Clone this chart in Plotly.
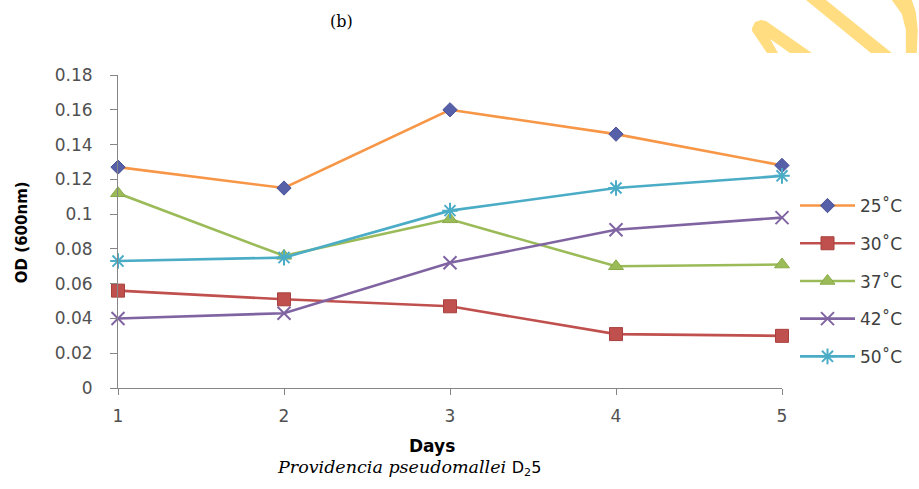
import plotly.graph_objects as go

# Optical density at 600 nm over five days, one series per incubation temperature
days = [1, 2, 3, 4, 5]
series_names = ["25˚C", "30˚C", "37˚C", "42˚C", "50˚C"]
od_25 = [0.127, 0.115, 0.160, 0.146, 0.128]
od_30 = [0.056, 0.051, 0.047, 0.031, 0.030]
od_37 = [0.112, 0.076, 0.097, 0.070, 0.071]
od_42 = [0.040, 0.043, 0.072, 0.091, 0.098]
od_50 = [0.073, 0.075, 0.102, 0.115, 0.122]
y_ticks = [0, 0.02, 0.04, 0.06, 0.08, 0.10, 0.12, 0.14, 0.16, 0.18]

W, H = 919, 489
L, R, T, B = 118, 783, 75, 388  # plot-area edges in pixels


def px(x, y):
    """Pixel position on the page -> paper coordinates."""
    return (x - L) / (R - L), (B - y) / (B - T)


styles = [
    dict(line="#F79646", marker=dict(symbol="diamond", size=11, color="#5660A8",
                                     line=dict(color="#4A5296", width=1))),
    dict(line="#C0504D", marker=dict(symbol="square", size=13, color="#C0504D",
                                     line=dict(color="#A8403D", width=1))),
    dict(line="#9BBB59", marker=dict(symbol="triangle-up", size=13, color="#9BBB59",
                                     line=dict(color="#8AAA48", width=1))),
    dict(line="#8064A2", marker=dict(symbol="x-thin-open", size=13, color="#8064A2",
                                     line=dict(color="#8064A2", width=2))),
    dict(line="#4BACC6", marker=dict(symbol="asterisk-open", size=13, color="#4BACC6",
                                     line=dict(color="#4BACC6", width=2))),
]

fig = go.Figure()
for name, vals, st in zip(series_names, [od_25, od_30, od_37, od_42, od_50], styles):
    fig.add_trace(go.Scatter(
        x=days, y=vals, name=name, mode="lines+markers",
        line=dict(color=st["line"], width=2.6),
        marker=st["marker"], cliponaxis=False, legendgroup=name,
    ))

axis_col = "#868686"
sans = "DejaVu Sans, Noto Sans, sans-serif"
tick_font = dict(family=sans, size=17, color="#505050")

fig.update_layout(
    width=W, height=H,
    margin=dict(l=L, r=W - R, t=T, b=H - B),
    paper_bgcolor="white", plot_bgcolor="white",
    showlegend=True,
    legend=dict(
        x=px(795, 0)[0], y=px(0, 188)[1], xanchor="left", yanchor="top",
        font=dict(family=sans, size=17, color="#404040"),
        tracegroupgap=12.6, itemwidth=55, bgcolor="rgba(0,0,0,0)",
    ),
    xaxis=dict(
        range=[1, 5], tickvals=days, showgrid=False, zeroline=False,
        showline=True, linecolor=axis_col, linewidth=1,
        ticks="outside", ticklen=6, tickcolor=axis_col, tickfont=tick_font,
        ticklabelstandoff=7,
    ),
    yaxis=dict(
        range=[0, 0.18], tickvals=y_ticks, showgrid=False, zeroline=False,
        showline=True, linecolor=axis_col, linewidth=1,
        ticks="outside", ticklen=7, tickcolor=axis_col, tickfont=tick_font,
        ticklabelstandoff=14,
    ),
)


def label(text, x, y, font, angle=0):
    fx, fy = px(x, y)
    fig.add_annotation(text=text, textangle=angle, xref="paper", yref="paper",
                       x=fx, y=fy, xanchor="center", yanchor="middle",
                       showarrow=False, font=font)


# Axis titles and caption
label("<b>OD (600nm)</b>", 22, 232, dict(family=sans, size=15, color="#000000"), angle=-90)
label("<b>Days</b>", 432, 446, dict(family=sans, size=17, color="#000000"))
label("<i>Providencia pseudomallei</i> "
      "<span style='font-family:DejaVu Sans;font-style:normal;font-size:16px'>"
      "D<sub>2</sub>5</span>",
      409, 468, dict(family="DejaVu Serif, serif", size=17.5, color="#000000"))
label("(b)", 342, 22, dict(family="DejaVu Serif, serif", size=16, color="#000000"))


# Yellow decorative strokes across the top-right corner
def path(points, close=True):
    pts = [px(x, y) for x, y in points]
    d = "M " + " L ".join(f"{a:.4f},{b:.4f}" for a, b in pts)
    return d + (" Z" if close else "")


yellow = "#FFDD80"
fig.add_shape(type="path", xref="paper", yref="paper", layer="above",
              path=path([(753, 28), (756, 22), (762, 20), (767, 21), (813, 53), (791, 53),
                         (771, 39), (779, 53), (768, 53), (753, 31)]),
              fillcolor=yellow, line=dict(width=0))
fig.add_shape(type="path", xref="paper", yref="paper", layer="above",
              path=path([(807, 0), (827, 0), (893, 53), (872, 53)]),
              fillcolor=yellow, line=dict(width=0))
fig.add_shape(type="path", xref="paper", yref="paper", layer="above",
              path=path([(893, 0), (913, 0), (917, 12), (919, 30), (918, 53), (907, 53),
                         (907, 30), (903, 14)]),
              fillcolor=yellow, line=dict(width=0))

fig.write_html("out.html")
